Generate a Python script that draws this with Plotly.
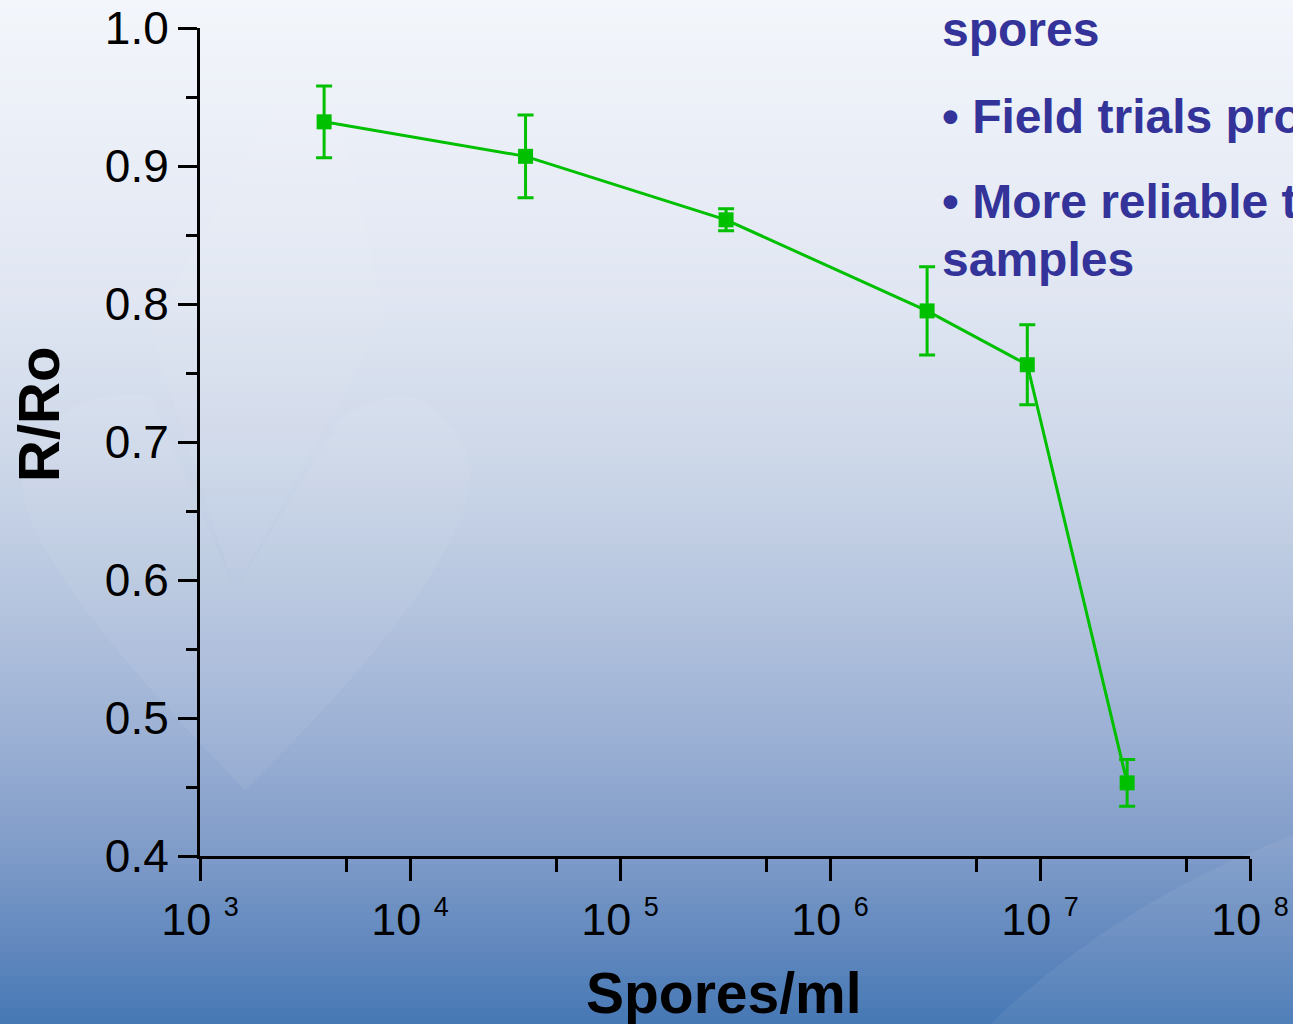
import plotly.graph_objects as go

# Sensor response versus spore concentration
spores_per_ml = [3.9e3, 3.55e4, 3.2e5, 2.9e6, 8.7e6, 2.6e7]
r_over_ro = [0.932, 0.907, 0.861, 0.795, 0.756, 0.453]
r_err = [0.026, 0.030, 0.008, 0.032, 0.029, 0.017]

x_tick_vals = [1e3, 1e4, 1e5, 1e6, 1e7, 1e8]
x_exponents = ["3", "4", "5", "6", "7", "8"]
x_minor_vals = [5e3, 5e4, 5e5, 5e6, 5e7]
y_tick_vals = [0.4, 0.5, 0.6, 0.7, 0.8, 0.9, 1.0]

side_lines = ["spores", "\u2022 Field trials prove", "\u2022 More reliable than", "samples"]

W, H = 1293, 1024
L, R, T, B = 200, 1250, 28, 856
GREEN = "#00c000"
TEXT_BLUE = "#333399"
FONT = "Liberation Sans"

x_tick_text = ["10 <sup><span style='font-size:27px'>%s</span></sup>" % e for e in x_exponents]


def px(x):
    return (x - L) / (R - L)


def py(y):
    return (B - y) / (B - T)


# vertical slide background gradient built from thin strips
stops = [(0, (243, 246, 251)), (300, (224, 230, 242)), (450, (206, 216, 233)),
         (600, (182, 197, 223)), (750, (152, 174, 211)), (856, (126, 155, 200)),
         (950, (96, 135, 190)), (1024, (70, 120, 180))]


def colour_at(y):
    for (y0, c0), (y1, c1) in zip(stops[:-1], stops[1:]):
        if y0 <= y <= y1:
            f = (y - y0) / (y1 - y0)
            return "rgb(%d,%d,%d)" % tuple(round(a + (b - a) * f) for a, b in zip(c0, c1))
    return "rgb(%d,%d,%d)" % stops[-1][1]


shapes = []
step = 8
for y in range(-8, H + 8, step):
    shapes.append(dict(type="rect", xref="paper", yref="paper", layer="below",
                       x0=px(-10), x1=px(W + 10), y0=py(y + step + 1), y1=py(y),
                       fillcolor=colour_at(min(max(y + step / 2, 0), H)),
                       line=dict(width=0)))


def path_px(cmds):
    out = []
    for c in cmds:
        if isinstance(c, str):
            out.append(c)
        else:
            out.append("%f,%f" % (px(c[0]), py(c[1])))
    return " ".join(out)


# faint heart watermark
heart = path_px(["M", (245, 790), "Q", (0, 540), (25, 470), "Q", (55, 385), (150, 395),
                 "L", (235, 590), "L", (340, 420), "Q", (420, 360), (465, 450),
                 "Q", (500, 540), (245, 790), "Z"])
shapes.append(dict(type="path", xref="paper", yref="paper", layer="below", path=heart,
                   fillcolor="rgba(255,255,255,0.06)", line=dict(width=0)))
vmark = path_px(["M", (150, 330), "L", (235, 590), "L", (385, 320), "L", (320, 20), "Z"])
shapes.append(dict(type="path", xref="paper", yref="paper", layer="below", path=vmark,
                   fillcolor="rgba(255,255,255,0.05)", line=dict(width=0)))
# swoosh at lower right
swoosh = path_px(["M", (990, 1024), "Q", (1120, 900), (1293, 835), "L", (1293, 1024), "Z"])
shapes.append(dict(type="path", xref="paper", yref="paper", layer="below", path=swoosh,
                   fillcolor="rgba(255,255,255,0.06)", line=dict(width=0)))

fig = go.Figure()
fig.add_trace(go.Scatter(
    x=spores_per_ml, y=r_over_ro, mode="lines+markers",
    line=dict(color=GREEN, width=3),
    marker=dict(symbol="square", size=15, color=GREEN),
    error_y=dict(type="data", array=r_err, color=GREEN, thickness=3, width=8),
    cliponaxis=False, showlegend=False,
))

annotations = [
    dict(text="R/Ro", xref="paper", yref="paper", x=px(38), y=py(415), textangle=-90,
         showarrow=False, xanchor="center", yanchor="middle",
         font=dict(family=FONT, size=58, color="black", weight="bold")),
    dict(text="Spores/ml", xref="paper", yref="paper", x=px(724), y=py(993),
         showarrow=False, xanchor="center", yanchor="middle",
         font=dict(family=FONT, size=57, color="black", weight="bold")),
]
for text, yc in zip(side_lines, [29, 116, 201, 259]):
    annotations.append(dict(text=text, xref="paper", yref="paper", x=px(940), y=py(yc),
                            showarrow=False, xanchor="left", yanchor="middle",
                            font=dict(family=FONT, size=48, color=TEXT_BLUE, weight="bold")))

fig.update_layout(
    width=W, height=H,
    margin=dict(l=L, r=W - R, t=T, b=H - B, pad=0, autoexpand=False),
    paper_bgcolor="rgb(200,212,230)",
    plot_bgcolor="rgba(0,0,0,0)",
    font=dict(family=FONT, color="black"),
    shapes=shapes,
    annotations=annotations,
    xaxis=dict(type="log", range=[3, 8], showgrid=False, zeroline=False, automargin=False,
               showline=True, linecolor="black", linewidth=3,
               ticks="outside", ticklen=22, tickwidth=3, tickcolor="black",
               tickmode="array", tickvals=x_tick_vals, ticktext=x_tick_text,
               tickfont=dict(size=45, family=FONT, color="black"),
               minor=dict(tickmode="array", tickvals=x_minor_vals, ticks="outside",
                          ticklen=13, tickwidth=3, tickcolor="black")),
    yaxis=dict(range=[0.4, 1.0], showgrid=False, zeroline=False, automargin=False,
               showline=True, linecolor="black", linewidth=3,
               ticks="outside", ticklen=19, tickwidth=3, tickcolor="black",
               tickmode="array", tickvals=y_tick_vals, tickformat=".1f",
               tickfont=dict(size=46, family=FONT, color="black"),
               minor=dict(dtick=0.05, tick0=0.4, ticks="outside",
                          ticklen=11, tickwidth=3, tickcolor="black")),
)

fig.write_html("out.html")
